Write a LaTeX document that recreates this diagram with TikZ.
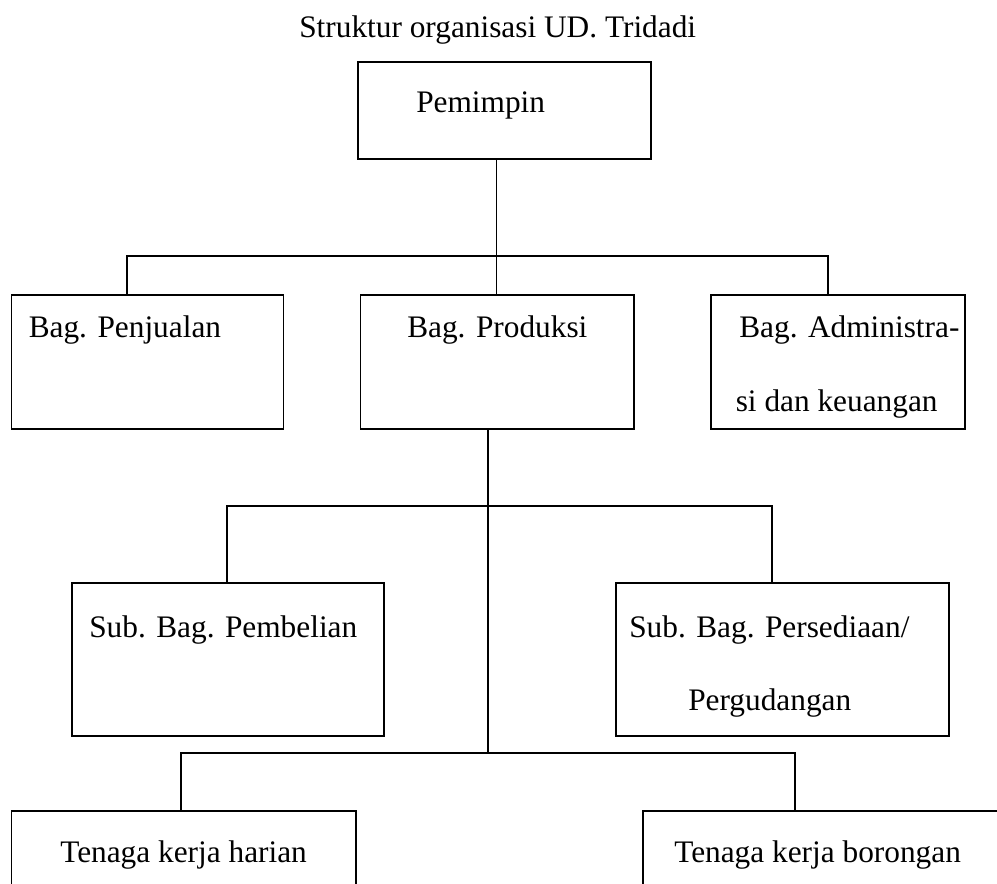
\documentclass[tikz,border=0pt]{standalone}
\usepackage{fontspec}
\setmainfont{Liberation Serif}
\usetikzlibrary{fit}
\begin{document}
\begin{tikzpicture}[x=0.75pt,y=-0.75pt,
  box/.style={draw, line width=0.9pt, inner sep=0pt, rectangle},
  lbl/.style={anchor=base west, inner sep=0pt, font=\fontsize{23.5}{28}\selectfont},
  conn/.style={line width=0.8pt},
  trunk/.style={line width=1.5pt}]
\useasboundingbox (0,0) rectangle (997,884);
\clip (0,0) rectangle (997,884);
\fill[white] (0,0) rectangle (997,884);
% title
\node[lbl] (ttl) at (299,38) {Struktur organisasi UD. Tridadi};
% boxes
\node[box, fit={(358,62) (651,159)}] (pem) {};
\node[box, fit={(11.5,295) (283.5,429)}] (penj) {};
\node[box, fit={(360.5,295) (634,429)}] (prod) {};
\node[box, fit={(711,295) (965,429)}] (adm) {};
\node[box, fit={(72,583) (384,736)}] (pemb) {};
\node[box, fit={(616,583) (949,736)}] (pers) {};
\node[box, fit={(11.5,811) (356,920)}] (har) {};
\node[box, fit={(643,811) (1010,920)}] (bor) {};
% texts
\node[lbl] (tpem) at (416,113) {Pemimpin};
\node[lbl] (tpenj) at (28.5,338) {Bag. Penjualan};
\node[lbl] (tprod) at (407,338) {Bag. Produksi};
\node[lbl] (tadm1) at (739,338) {Bag. Administra-};
\node[lbl] (tadm2) at (735.5,412) {si dan keuangan};
\node[lbl] (tpemb) at (89,637) {Sub. Bag. Pembelian};
\node[lbl] (tpers1) at (629,637) {Sub. Bag. Persediaan/};
\node[lbl] (tpers2) at (688,710) {Pergudangan};
\node[lbl] (thar) at (60,862) {Tenaga kerja harian};
\node[lbl] (tbor) at (674,862) {Tenaga kerja borongan};
% junction coordinates
\coordinate (j1) at (496.5,256);
\coordinate (b1L) at (127,256);
\coordinate (b1R) at (828,256);
\coordinate (j2) at (487.6,506);
\coordinate (b2L) at (227,506);
\coordinate (b2R) at (772,506);
\coordinate (j3) at (487.6,753);
\coordinate (b3L) at (181,753);
\coordinate (b3R) at (795,753);
% connectors
\draw[conn] (j1 |- pem.south) -- (j1 |- prod.north);
\draw[conn] (b1L |- penj.north) -- (b1L) -- (b1R) -- (b1R |- adm.north);
\draw[trunk] (j2 |- prod.south) -- (j3);
\draw[conn] (b2L |- pemb.north) -- (b2L) -- (b2R) -- (b2R |- pers.north);
\draw[trunk] (b3L |- har.north) -- (b3L) -- (b3R) -- (b3R |- bor.north);
\end{tikzpicture}
\end{document}
